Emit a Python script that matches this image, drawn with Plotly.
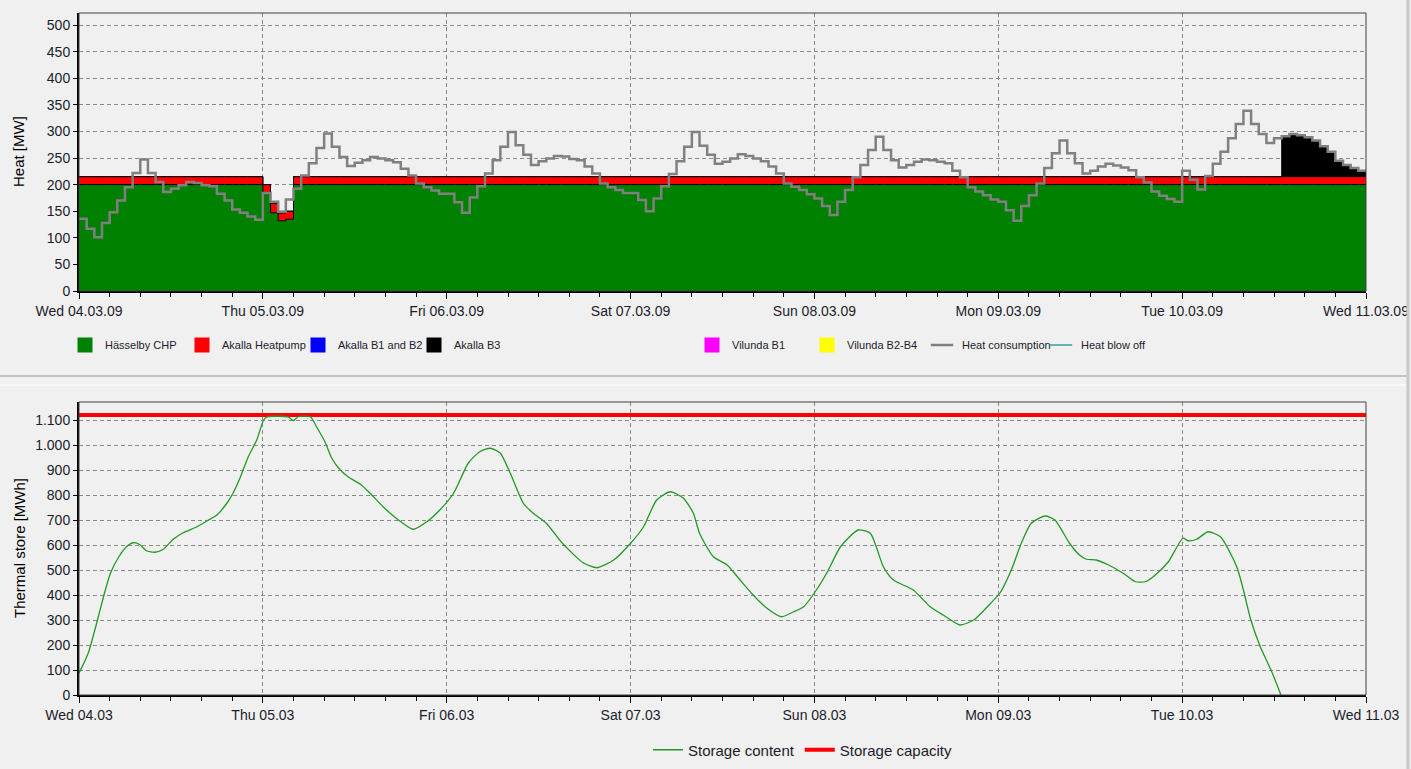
import plotly.graph_objects as go
import pandas as pd

START = pd.Timestamp("2009-03-04")
END = pd.Timestamp("2009-03-11")

# Hourly heat values [MW], Wed 04.03 00:00 .. Tue 10.03 23:00
heat_consumption = [
    # Wed
    136, 117, 101, 128, 148, 170, 195, 222, 247, 222, 205, 186,
    192, 199, 205, 203, 199, 197, 183, 170, 153, 147, 140, 134,
    # Thu
    184, 168, 149, 172, 192, 217, 240, 269, 296, 271, 252, 235,
    241, 246, 252, 249, 246, 242, 230, 217, 202, 195, 189, 183,
    # Fri
    183, 167, 147, 176, 197, 221, 246, 271, 299, 274, 256, 237,
    244, 249, 254, 253, 248, 246, 234, 221, 202, 195, 190, 184,
    # Sat
    184, 171, 150, 174, 197, 220, 244, 271, 299, 273, 256, 239,
    243, 249, 257, 254, 249, 244, 234, 221, 202, 196, 190, 182,
    # Sun
    174, 160, 143, 168, 190, 214, 237, 265, 290, 265, 246, 232,
    237, 243, 247, 246, 243, 240, 226, 214, 195, 187, 180, 172,
    # Mon
    168, 152, 132, 160, 180, 202, 231, 259, 283, 259, 240, 221,
    226, 234, 239, 236, 232, 227, 214, 204, 187, 179, 173, 168,
    # Tue
    226, 209, 191, 216, 239, 262, 287, 314, 339, 314, 295, 278,
    287, 291, 295, 293, 289, 283, 272, 262, 245, 237, 231, 226,
]
hasselby_chp = [200] * 24 + [185, 147, 132, 135] + [200] * 140
akalla_heatpump = [15] * 25 + [18] + [15] * 142
akalla_b3 = [0] * 157 + [76, 80, 78, 74, 68, 57, 47, 30, 22, 16, 11]

# Thermal store content [MWh] read at (hours after Wed 04.03 00:00)
storage_hours = [
    0, 1.2, 2.3, 3.2, 4.1, 5.2, 6.2, 7.1, 8, 8.8, 9.9, 11, 12.3, 13.6, 15.4,
    16.9, 18, 19.3, 20.1, 21, 22.1, 23.2, 24.1, 24.6, 26, 27.3, 28, 28.6, 30.2,
    31, 32.1, 33, 33.9, 35.2, 36.7, 38, 39.7, 41.7, 43.6, 45.4, 47.1, 48.9,
    50.8, 52.3, 53.7, 55, 56.3, 58, 59.3, 61, 63.1, 65.8, 67.6, 69.8, 72, 73.7,
    75.4, 77.2, 78.9, 80.2, 81, 82.8, 84.6, 86.3, 88, 89.8, 91.7, 93.3, 94.6,
    96.1, 97.6, 99.4, 101.7, 103.3, 105, 106.3, 108.9, 111.1, 112.8, 115,
    116.8, 119, 120.2, 121.7, 123, 124.3, 126.1, 127.4, 129.3, 130.6, 131.5,
    132.8, 134.4, 136.3, 137.9, 139.2, 140.5, 142.2, 144.1, 144.8, 145.9,
    147.4, 149, 150.3, 151.2, 152, 152.9, 154.2, 155.6, 156.9,
]
storage_content = [
    87, 167, 287, 393, 487, 553, 593, 609, 600, 577, 571, 583, 623, 649, 673,
    700, 720, 767, 807, 867, 953, 1020, 1100, 1113, 1115, 1112, 1098, 1113, 1113,
    1073, 1013, 947, 907, 871, 844, 807, 753, 700, 663, 693, 740, 807,
    927, 973, 987, 967, 887, 767, 727, 687, 607, 529, 509, 540, 607, 673,
    780, 813, 787, 727, 647, 553, 520, 460, 400, 347, 313, 333, 353,
    413, 487, 593, 660, 647, 513, 460, 420, 353, 320, 280,
    300, 367, 407, 500, 607, 687, 716, 700, 607, 560, 543,
    540, 520, 487, 453, 453, 480, 533, 627, 617, 623,
    653, 633, 567, 507, 420, 307, 193, 100, 0,
]
storage_capacity = 1120

W, H = 1411, 769
FONT = "Liberation Sans, Arial, sans-serif"
TXT = "#1c1c2c"

hours = pd.date_range(START, periods=169, freq="h")
store_x = START + pd.to_timedelta(storage_hours, unit="h")


def step(vals):
    # repeat the last value so the final hour is drawn to the end
    return list(vals) + list(vals[-1:])


fig = go.Figure()

# Stacked production areas
for name, vals, color in [
    ("Hässelby CHP", hasselby_chp, "#008000"),
    ("Akalla Heatpump", akalla_heatpump, "#ff0000"),
    ("Akalla B3", akalla_b3, "#000000"),
]:
    fig.add_trace(
        go.Scatter(
            x=hours, y=step(vals), stackgroup="prod", mode="lines",
            line=dict(shape="hv", color="#000000", width=1),
            fillcolor=color, name=name, showlegend=False, hoverinfo="skip",
        )
    )

# Heat consumption
fig.add_trace(
    go.Scatter(
        x=hours, y=step(heat_consumption), mode="lines",
        line=dict(shape="hv", color="#808080", width=2.5),
        name="Heat consumption", showlegend=False,
    )
)

# Thermal store
fig.add_trace(
    go.Scatter(
        x=[START, END], y=[storage_capacity, storage_capacity], mode="lines",
        line=dict(color="#ff0000", width=4), showlegend=False,
        xaxis="x2", yaxis="y2",
    )
)
fig.add_trace(
    go.Scatter(
        x=store_x, y=storage_content, mode="lines",
        line=dict(color="#229922", width=1.3, shape="spline", smoothing=0.6),
        showlegend=False, xaxis="x2", yaxis="y2",
    )
)

# Legend entries (one legend per item to match the original spacing)
legend_items = [
    ("Hässelby CHP", "#008000", "square", 65),
    ("Akalla Heatpump", "#ff0000", "square", 182),
    ("Akalla B1 and B2", "#0000ff", "square", 298),
    ("Akalla B3", "#000000", "square", 414),
    ("Vilunda B1", "#ff00ff", "square", 692),
    ("Vilunda B2-B4", "#ffff00", "square", 807),
    ("Heat consumption", "#808080", "line-ew", 922),
    ("Heat blow off", "#3a9e9e", "line-ew", 1041),
]
legends = {}
for i, (name, color, symbol, xpos) in enumerate(legend_items):
    key = "legend" if i == 0 else f"legend{i + 1}"
    if symbol == "square":
        marker = dict(symbol=symbol, size=15, color=color)
    else:
        marker = dict(symbol=symbol, size=18,
                      line=dict(color=color, width=2.5 if i == 6 else 1.3))
    fig.add_trace(go.Scatter(x=[None], y=[None], mode="markers", name=name,
                             marker=marker, legend=key))
    legends[key] = dict(
        x=xpos / W, xanchor="left", y=1 - 345 / H, yanchor="middle",
        orientation="h", bgcolor="rgba(0,0,0,0)",
        font=dict(family=FONT, size=11, color=TXT),
    )

fig.add_trace(go.Scatter(x=[None], y=[None], mode="lines", name="Storage content",
                         line=dict(color="#229922", width=1.3), legend="legend9",
                         xaxis="x2", yaxis="y2"))
fig.add_trace(go.Scatter(x=[None], y=[None], mode="lines", name="Storage capacity",
                         line=dict(color="#ff0000", width=4), legend="legend9",
                         xaxis="x2", yaxis="y2"))
legends["legend9"] = dict(
    x=648 / W, xanchor="left", y=1 - 750 / H, yanchor="middle",
    orientation="h", bgcolor="rgba(0,0,0,0)",
    font=dict(family=FONT, size=15, color=TXT),
)

grid = dict(showgrid=True, gridcolor="#8a8a8a", gridwidth=1, griddash="4px,3px")
xcommon = dict(
    type="date", range=[START, END], dtick=86400000, tick0=START,
    ticks="outside", ticklen=6, tickcolor="#000000", automargin=False,
    minor=dict(dtick=4 * 3600000, ticks="outside", ticklen=4, tickcolor="#000000", showgrid=False),
    showline=True, linecolor="#000000", linewidth=2, zeroline=False,
    tickfont=dict(family=FONT, size=14, color=TXT), **grid,
)
ycommon = dict(
    ticks="outside", ticklen=4, tickcolor="#000000", automargin=False,
    showline=True, linecolor="#000000", linewidth=2, zeroline=False,
    tickfont=dict(family=FONT, size=14, color=TXT), **grid,
)

fig.update_layout(
    width=W, height=H,
    margin=dict(l=0, r=0, t=0, b=0, autoexpand=False),
    paper_bgcolor="#f0f0f0", plot_bgcolor="#f0f0f0",
    separators=",.",
    hovermode=False,
    xaxis=dict(domain=[79 / W, 1366 / W], anchor="y", tickformat="%a %d.%m.%y", **xcommon),
    yaxis=dict(domain=[1 - 291 / H, 1 - 13 / H], anchor="x", range=[0, 522.6], dtick=50, **ycommon),
    xaxis2=dict(domain=[79 / W, 1366 / W], anchor="y2", tickformat="%a %d.%m", **xcommon),
    yaxis2=dict(domain=[1 - 695 / H, 1 - 402 / H], anchor="x2", range=[0, 1172], dtick=100,
                tickformat=",d", **ycommon),
    **legends,
)

# Plot frames and panel separators
for xr, yr in [("x domain", "y domain"), ("x2 domain", "y2 domain")]:
    fig.add_shape(type="rect", xref=xr, yref=yr, x0=0, x1=1, y0=0, y1=1,
                  line=dict(color="#404040", width=1), layer="above")
fig.add_shape(type="line", xref="paper", yref="paper", x0=0, x1=1407 / W,
              y0=1 - 376 / H, y1=1 - 376 / H, line=dict(color="#c4c4c4", width=2))
fig.add_shape(type="line", xref="paper", yref="paper", x0=0, x1=1407 / W,
              y0=1 - 385 / H, y1=1 - 385 / H, line=dict(color="#ffffff", width=1))
fig.add_shape(type="line", xref="paper", yref="paper", x0=1408 / W, x1=1408 / W,
              y0=0, y1=1, line=dict(color="#c8c8c8", width=3))

# Axis titles
for text, ypix in [("Heat [MW]", 152), ("Thermal store [MWh]", 548)]:
    fig.add_annotation(text=text, x=19 / W, y=1 - ypix / H, xref="paper", yref="paper",
                       xanchor="center", yanchor="middle", textangle=-90, showarrow=False,
                       font=dict(family=FONT, size=15, color="#000000"))

# drop the default page margin so the figure starts at the window corner
fig.write_html("out.html", config={"displayModeBar": False},
               post_script="document.body.style.margin='0';")
